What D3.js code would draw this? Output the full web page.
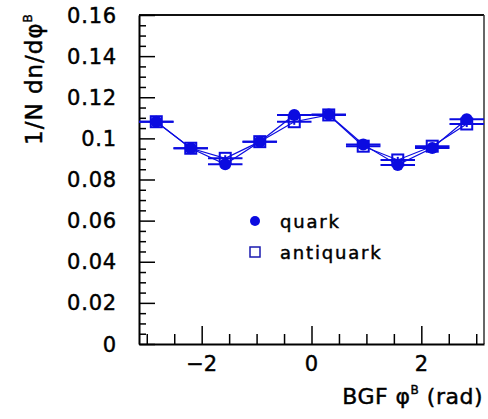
<!DOCTYPE html>
<html><head><meta charset="utf-8">
<script src="https://cdn.jsdelivr.net/npm/d3@7"></script>
<style>body{margin:0;background:#fff;} svg{display:block;}</style>
</head><body>
<svg id="c" width="488" height="419"></svg>
<script>
const binCenters = [-2.827, -2.199, -1.571, -0.942, -0.314, 0.314, 0.942, 1.571, 2.199, 2.827];
const binHalfWidth = Math.PI / 10;
const quark =     [0.1081, 0.0952, 0.0874, 0.0984, 0.1114, 0.1116, 0.0970, 0.0871, 0.0953, 0.1093];
const antiquark = [0.1081, 0.0952, 0.0903, 0.0984, 0.1081, 0.1114, 0.0962, 0.0895, 0.0962, 0.1070];
const yErr = 0.0015;
const xTickLabels = [-2, 0, 2];
const yTickLabels = [0, 0.02, 0.04, 0.06, 0.08, 0.1, 0.12, 0.14, 0.16];
const legendLabels = ["quark", "antiquark"];

const svg = d3.select("#c");
const L = 139, R = 484, T = 15, B = 344;
const x = d3.scaleLinear().domain([-Math.PI, Math.PI]).range([L, R]);
const y = d3.scaleLinear().domain([0, 0.16]).range([B, T]);
const blue = "#0b0be0";
const font = "DejaVu Sans, sans-serif";
const heavy = sel => sel.attr("stroke", "#000").attr("stroke-width", 0.45);

// frame
svg.append("line").attr("x1", L).attr("x2", R).attr("y1", T).attr("y2", T).attr("stroke", "#111").attr("stroke-width", 2);
svg.append("line").attr("x1", R).attr("x2", R).attr("y1", T).attr("y2", B).attr("stroke", "#333").attr("stroke-width", 1.5);

// y axis
const yAxis = d3.axisLeft(y).tickValues(d3.range(0, 0.1601, 0.005)).tickSize(0).tickFormat("");
const gy = svg.append("g").attr("transform", `translate(${L},0)`).call(yAxis);
gy.select(".domain").attr("stroke", "#000").attr("stroke-width", 2);
gy.selectAll(".tick line").remove();
gy.selectAll(".tick").append("line")
  .attr("x1", 0).attr("y1", 0).attr("y2", 0)
  .attr("x2", d => (Math.round(d * 1000) % 20 === 0) ? 16 : 7)
  .attr("stroke", "#000").attr("stroke-width", 1.5);
svg.append("g").selectAll("text").data(yTickLabels).join("text")
  .attr("x", 117).attr("y", d => y(d)).attr("dy", "0.36em")
  .attr("text-anchor", "end").attr("font-family", font).attr("font-size", 21).attr("letter-spacing", 0.8).attr("fill", "#000")
  .call(heavy)
  .text(d => d === 0 ? "0" : String(d));

// x axis
const xAxis = d3.axisBottom(x).tickValues(d3.range(-3, 3.01, 0.5)).tickSize(0).tickFormat("");
const gx = svg.append("g").attr("transform", `translate(0,${B})`).call(xAxis);
gx.select(".domain").attr("stroke", "#000").attr("stroke-width", 2);
gx.selectAll(".tick").append("line")
  .attr("x1", 0).attr("x2", 0).attr("y1", 0)
  .attr("y2", d => xTickLabels.includes(d) ? -18 : -10)
  .attr("stroke", "#000").attr("stroke-width", 1.5);
svg.append("g").selectAll("text").data(xTickLabels).join("text")
  .attr("x", d => x(d)).attr("y", 371)
  .attr("text-anchor", "middle").attr("font-family", font).attr("font-size", 21).attr("fill", "#000")
  .call(heavy)
  .text(d => d < 0 ? "\u2212" + Math.abs(d) : String(d));

// axis titles
const xt = svg.append("text").attr("x", 483).attr("y", 404).attr("text-anchor", "end")
  .attr("font-family", font).attr("font-size", 22).attr("letter-spacing", 0.5).attr("fill", "#000").call(heavy);
xt.append("tspan").text("BGF \u03C6");
xt.append("tspan").attr("font-size", 12).attr("dy", -10).text("B");
xt.append("tspan").attr("dy", 10).text(" (rad)");

const yt = svg.append("text").attr("transform", "translate(42,145) rotate(-90)")
  .attr("text-anchor", "start").attr("font-family", font).attr("font-size", 23).attr("letter-spacing", 1).attr("fill", "#000").call(heavy);
yt.append("tspan").text("1/N dn/d\u03C6");
yt.append("tspan").attr("font-size", 12).attr("dy", -10).text("B");

// series
const series = [
  { name: "quark", vals: quark },
  { name: "antiquark", vals: antiquark }
];
const line = d3.line().x((d, i) => x(binCenters[i])).y(d => y(d));
series.forEach(s => {
  svg.append("path").attr("d", line(s.vals)).attr("fill", "none").attr("stroke", blue).attr("stroke-width", 1.2);
  const g = svg.append("g");
  g.selectAll("line.h").data(s.vals).join("line").attr("class", "h")
    .attr("x1", (d, i) => x(binCenters[i] - binHalfWidth)).attr("x2", (d, i) => x(binCenters[i] + binHalfWidth))
    .attr("y1", d => y(d)).attr("y2", d => y(d)).attr("stroke", blue).attr("stroke-width", 2);
  g.selectAll("line.v").data(s.vals).join("line").attr("class", "v")
    .attr("x1", (d, i) => x(binCenters[i])).attr("x2", (d, i) => x(binCenters[i]))
    .attr("y1", d => y(d - yErr)).attr("y2", d => y(d + yErr)).attr("stroke", blue).attr("stroke-width", 2);
});
// antiquark markers (open squares)
svg.append("g").selectAll("rect").data(antiquark).join("rect")
  .attr("x", (d, i) => x(binCenters[i]) - 5.5).attr("y", d => y(d) - 5.5)
  .attr("width", 11).attr("height", 11).attr("fill", "none").attr("stroke", blue).attr("stroke-width", 2);
// quark markers (filled circles)
svg.append("g").selectAll("circle").data(quark).join("circle")
  .attr("cx", (d, i) => x(binCenters[i])).attr("cy", d => y(d)).attr("r", 6).attr("fill", blue);

// legend
svg.append("circle").attr("cx", 255).attr("cy", 221).attr("r", 5).attr("fill", blue);
svg.append("rect").attr("x", 250).attr("y", 247).attr("width", 10).attr("height", 10)
  .attr("fill", "none").attr("stroke", "#1a1ab0").attr("stroke-width", 1.5);
svg.append("g").selectAll("text").data(legendLabels).join("text")
  .attr("x", 280).attr("y", (d, i) => 228 + i * 31)
  .attr("font-family", font).attr("font-size", 18).attr("letter-spacing", 1.8).attr("fill", "#000")
  .call(heavy)
  .text(d => d);
</script>
</body></html>
